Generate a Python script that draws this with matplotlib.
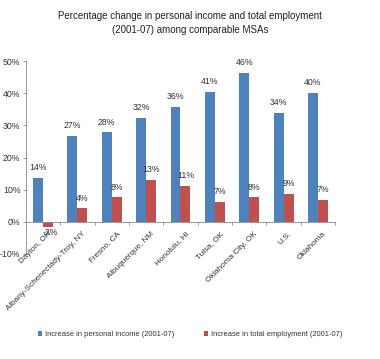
import matplotlib
matplotlib.use("Agg")
import matplotlib.pyplot as plt
import numpy as np
from matplotlib.transforms import offset_copy

categories = ["Dayton, OH", "Albany-Schenectady-Troy, NY", "Fresno, CA",
              "Albuquerque, NM", "Honolulu, HI", "Tulsa, OK",
              "Oklahoma City, OK", "U.S.", "Oklahoma"]
income = [13.7, 26.7, 27.8, 32.3, 35.8, 40.5, 46.3, 33.9, 40.1]
employment = [-1.5, 4.2, 7.6, 13.0, 11.2, 6.3, 7.7, 8.7, 6.8]
income_labels = ["14%", "27%", "28%", "32%", "36%", "41%", "46%", "34%", "40%"]
employment_labels = ["-2%", "4%", "8%", "13%", "11%", "7%", "8%", "9%", "7%"]
yticks = [-10, 0, 10, 20, 30, 40, 50]
ytick_labels = ["-10%", "0%", "10%", "20%", "30%", "40%", "50%"]
series_names = ["Increase in personal income (2001-07)",
                "Increase in total employment (2001-07)"]

plt.rcParams['font.family'] = ['Liberation Sans', 'DejaVu Sans']
blue = "#4F81BD"
red = "#C0504D"
tc = "#333333"

fig = plt.figure(figsize=(3.8, 3.59), dpi=100)
ax = fig.add_axes([0.068, 0.2925, 0.814, 0.5375])

x = np.arange(len(categories))
w = 0.29
b1 = ax.bar(x - w/2, income, w, color=blue, label=series_names[0])
b2 = ax.bar(x + w/2, employment, w, color=red, label=series_names[1])

fs = 6.3
for xi, v, lab in zip(x, income, income_labels):
    ax.annotate(lab, (xi - w/2, v), xytext=(0, 4), textcoords="offset points",
                ha="center", va="bottom", fontsize=fs, color=tc)
for xi, v, lab in zip(x, employment, employment_labels):
    if v >= 0:
        ax.annotate(lab, (xi + w/2, v), xytext=(0, 4), textcoords="offset points",
                    ha="center", va="bottom", fontsize=fs, color=tc)
    else:
        ax.annotate(lab, (xi + w/2, v), xytext=(2, -1), textcoords="offset points",
                    ha="center", va="top", fontsize=fs, color=tc)

ax.set_xlim(-0.5, len(categories) - 0.5)
ax.set_ylim(-10, 50)
ax.set_yticks(yticks)
ax.set_yticklabels(ytick_labels, fontsize=fs, color=tc)
ax.tick_params(axis="y", length=2, width=0.6, color="#888888", pad=2)

ax.spines["top"].set_visible(False)
ax.spines["right"].set_visible(False)
ax.spines["left"].set_color("#888888")
ax.spines["left"].set_linewidth(0.6)
ax.spines["bottom"].set_position(("data", 0))
ax.spines["bottom"].set_color("#888888")
ax.spines["bottom"].set_linewidth(0.6)

ax.set_xticks(np.arange(-0.5, len(categories), 1.0))
ax.set_xticklabels([])
ax.tick_params(axis="x", length=2, width=0.6, color="#888888", direction="out")

trans = offset_copy(ax.transData, fig=fig, x=3.5, y=-6, units="points")
for xi, c in zip(x, categories):
    ax.text(xi, 0, c, transform=trans, rotation=45, ha="right", va="top",
            rotation_mode="anchor", fontsize=5.9, color=tc)

fig.suptitle("Percentage change in personal income and total employment\n(2001-07) among comparable MSAs",
             y=0.97, fontsize=7.0, color="#222222", linespacing=1.5)

fig.legend(handles=[b1, b2], labels=series_names, loc="center",
           bbox_to_anchor=(0.5, 0.067), ncol=2, frameon=False, fontsize=5.4,
           handlelength=0.6, handleheight=0.6, handletextpad=0.3, columnspacing=4.0,
           labelcolor=tc)

fig.savefig("out.png", dpi=100)
